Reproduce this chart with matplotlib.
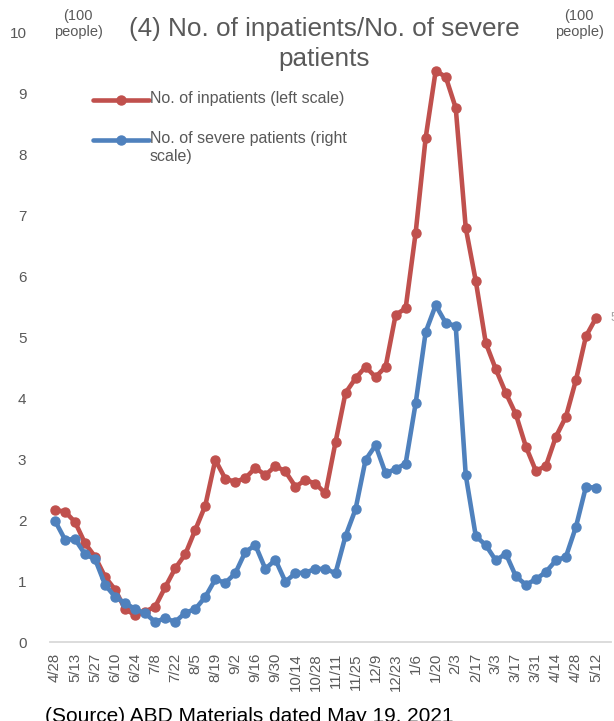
import matplotlib
matplotlib.use("Agg")
import matplotlib.pyplot as plt
from matplotlib.lines import Line2D

plt.rcParams['font.family'] = ['Liberation Sans', 'DejaVu Sans']

dates = ["4/28", "5/6", "5/13", "5/20", "5/27", "6/3", "6/10", "6/17", "6/24", "7/1",
         "7/8", "7/15", "7/22", "7/29", "8/5", "8/12", "8/19", "8/26", "9/2", "9/9",
         "9/16", "9/23", "9/30", "10/7", "10/14", "10/21", "10/28", "11/4", "11/11", "11/18",
         "11/25", "12/2", "12/9", "12/16", "12/23", "12/30", "1/6", "1/13", "1/20", "1/27",
         "2/3", "2/10", "2/17", "2/24", "3/3", "3/10", "3/17", "3/24", "3/31", "4/7",
         "4/14", "4/21", "4/28", "5/5", "5/12"]

inpatients = [2.17, 2.14, 1.97, 1.62, 1.40, 1.07, 0.86, 0.54, 0.44, 0.50,
              0.58, 0.90, 1.21, 1.44, 1.84, 2.24, 2.99, 2.68, 2.63, 2.69,
              2.86, 2.74, 2.89, 2.80, 2.55, 2.66, 2.60, 2.44, 3.28, 4.09,
              4.33, 4.52, 4.35, 4.52, 5.37, 5.48, 6.72, 8.28, 9.38, 9.28,
              8.77, 6.80, 5.93, 4.91, 4.48, 4.09, 3.74, 3.21, 2.81, 2.89,
              3.37, 3.70, 4.30, 5.02, 5.32]

severe = [1.99, 1.68, 1.69, 1.44, 1.36, 0.94, 0.74, 0.64, 0.54, 0.47,
          0.33, 0.39, 0.33, 0.48, 0.54, 0.74, 1.03, 0.97, 1.13, 1.48,
          1.59, 1.20, 1.35, 0.99, 1.13, 1.14, 1.20, 1.20, 1.13, 1.74,
          2.18, 2.99, 3.23, 2.77, 2.84, 2.93, 3.92, 5.09, 5.53, 5.24,
          5.19, 2.74, 1.74, 1.59, 1.34, 1.45, 1.08, 0.94, 1.03, 1.15,
          1.34, 1.40, 1.89, 2.55, 2.53]

yticks = [0, 1, 2, 3, 4, 5, 6, 7, 8, 9, 10]

RED = '#C0504D'
BLUE = '#4F81BD'
GRAY = '#595959'

W, H = 614, 721
fig = plt.figure(figsize=(W / 100, H / 100), dpi=100)
left, right, bottom, top = 50, 611, 642, 33
ax = fig.add_axes([left / W, (H - bottom) / H, (right - left) / W, (bottom - top) / H])
ax2 = ax.twinx()

x = list(range(len(dates)))
ax.plot(x, inpatients, color=RED, lw=3.3, marker='o', ms=6.5, solid_capstyle='round', zorder=3)
ax2.plot(x, severe, color=BLUE, lw=3.3, marker='o', ms=6.5, solid_capstyle='round', zorder=3)

for a in (ax, ax2):
    a.set_ylim(0, 10)
    a.set_xlim(-0.5, len(dates) + 0.5)
    for s in a.spines.values():
        s.set_visible(False)
ax.spines['bottom'].set_visible(True)
ax.spines['bottom'].set_color('#D9D9D9')
ax.spines['bottom'].set_linewidth(1.3)
ax2.set_yticks([])

ax.set_yticks(yticks)
ax.set_yticklabels([str(v) for v in yticks])
ax.tick_params(axis='y', length=0, pad=17, labelsize=11, labelcolor=GRAY)
ax.set_xticks(x[::2])
ax.set_xticklabels(dates[::2], rotation=90)
ax.tick_params(axis='x', length=0, pad=8, labelsize=10.8, labelcolor=GRAY)

# title and unit labels
fig.text(324 / W, 1 - 44 / H, "(4) No. of inpatients/No. of severe\npatients", ha='center', va='center',
         fontsize=18.8, color=GRAY, linespacing=1.3)
fig.text(78 / W, 1 - 24 / H, "(100\npeople)", ha='center', va='center', fontsize=10.5, color=GRAY,
         linespacing=1.15)
fig.text(579 / W, 1 - 24 / H, "(100\npeople)", ha='center', va='center', fontsize=10.5, color=GRAY,
         linespacing=1.15)

# legend
for yy, col, lab in [(100, RED, "No. of inpatients (left scale)"),
                     (140, BLUE, "No. of severe patients (right\nscale)")]:
    fig.add_artist(Line2D([93 / W, 149 / W], [1 - yy / H, 1 - yy / H], color=col, lw=3.3,
                          transform=fig.transFigure, solid_capstyle='round'))
    fig.add_artist(Line2D([121 / W], [1 - yy / H], color=col, marker='o', ms=6.5,
                          transform=fig.transFigure))
    fig.text(150 / W, 1 - (yy - 9) / H, lab, ha='left', va='top', fontsize=11.5, color=GRAY,
             linespacing=1.25)

# clipped data label at right edge
fig.text(611 / W, 1 - 318 / H, "5", ha='left', va='center', fontsize=9, color='#A6A6A6')

# source note (cut at bottom)
fig.text(45 / W, 1 - 707 / H, "(Source) ABD Materials dated May 19, 2021", ha='left', va='top',
         fontsize=15, color='#000000')

fig.savefig("out.png", dpi=100)
